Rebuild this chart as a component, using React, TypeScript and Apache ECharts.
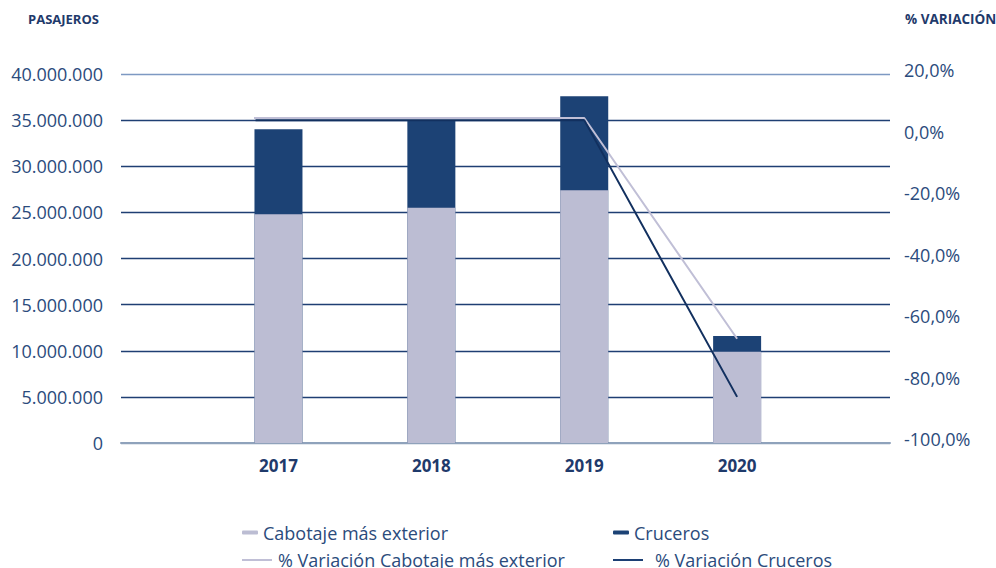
import React, { useEffect, useRef } from "react";
import * as echarts from "echarts";

const categories = ["", "2017", "2018", "2019", "2020", ""];
const barX = [1, 2, 3, 4];
const cabotaje = [24800000, 25500000, 27400000, 9900000];
const cruceros = [9200000, 9500000, 10200000, 1700000];
// % variation lines: [position on category index scale, value]
const varCabotajeX = [0.84, 1, 2, 3, 4];
const varCabotaje = [5.7, 5.7, 5.7, 5.7, -66.1];
const varCrucerosX = [0.85, 1, 2, 3, 4];
const varCruceros = [5.0, 5.0, 5.0, 5.0, -85.0];
const labelPositions = [1, 2, 3, 4];

const NAVY = "#1c4275";
const LIGHT = "#bcbdd3";
const TEXT = "#2b4b7c";
const FONT = "'Open Sans', 'Noto Sans', sans-serif";

function fmtThousands(v: number) {
  return String(v).replace(/\B(?=(\d{3})+(?!\d))/g, ".");
}

export default function App() {
  const ref = useRef<HTMLDivElement>(null);
  useEffect(() => {
    if (!ref.current) return;
    const chart = echarts.init(ref.current, null, { renderer: "svg" });
    const legendText = { fontFamily: FONT, fontSize: 18, color: TEXT, lineHeight: 22 };
    // stacked totals (cabotaje + cruceros), the cabotaje part is drawn over it
    const totals = cabotaje.map((v, i) => v + cruceros[i]);
    chart.setOption({
      animation: false,
      grid: { left: 121, right: 106, top: 74, bottom: 125, containLabel: false },
      graphic: [
        {
          type: "text",
          left: 28,
          top: 12,
          style: { text: "PASAJEROS", font: `bold 13px ${FONT}`, fill: "#1f3a6b" },
        },
        {
          type: "text",
          left: 905,
          top: 12,
          style: { text: "% VARIACIÓN", font: `bold 13.5px ${FONT}`, fill: "#1f3a6b" },
        },
      ],
      legend: [
        {
          data: ["Cabotaje más exterior"],
          left: 242,
          top: 518,
          padding: 0,
          icon: "roundRect",
          itemWidth: 16,
          itemHeight: 4,
          textStyle: { ...legendText, padding: [0, 0, 7, 0] },
        },
        {
          data: ["Cruceros"],
          left: 613,
          top: 518,
          padding: 0,
          icon: "roundRect",
          itemWidth: 16,
          itemHeight: 4,
          textStyle: { ...legendText, padding: [0, 0, 7, 0] },
        },
        {
          data: ["% Variación Cabotaje más exterior"],
          left: 242,
          top: 549,
          padding: 0,
          icon: "rect",
          itemWidth: 30,
          itemHeight: 2,
          textStyle: { ...legendText, padding: [0, 0, 0, 1] },
        },
        {
          data: ["% Variación Cruceros"],
          left: 613,
          top: 549,
          padding: 0,
          icon: "rect",
          itemWidth: 30,
          itemHeight: 2,
          textStyle: { ...legendText, padding: [0, 0, 0, 7] },
        },
      ],
      xAxis: [
        {
          type: "value",
          min: -0.03,
          max: 5,
          axisLine: { lineStyle: { color: "#8fa2bb", width: 2 } },
          axisTick: { show: false },
          axisLabel: {
            fontFamily: FONT,
            fontSize: 17,
            fontWeight: "bold",
            color: "#1f3a6b",
            margin: 14,
            customValues: labelPositions,
            formatter: (v: number) => categories[Math.round(v)] ?? "",
          },
          splitLine: { show: false },
        },
      ],
      yAxis: [
        {
          type: "value",
          min: 0,
          max: 40000000,
          interval: 5000000,
          axisLine: { show: false },
          axisTick: { show: false },
          axisLabel: {
            fontFamily: FONT,
            fontSize: 18,
            color: TEXT,
            margin: 18,
            formatter: (v: number) => fmtThousands(v),
          },
          splitLine: {
            lineStyle: {
              color: [
                "#8fa2bb",
                "#1f3f73",
                "#1f3f73",
                "#1f3f73",
                "#1f3f73",
                "#1f3f73",
                "#1f3f73",
                "#1f3f73",
                "#7d99c2",
              ],
              width: 1.4,
            },
          },
        },
        {
          type: "value",
          min: -100,
          max: 20,
          interval: 20,
          position: "right",
          axisLine: { show: false },
          axisTick: { show: false },
          splitLine: { show: false },
          axisLabel: {
            fontFamily: FONT,
            fontSize: 18,
            color: TEXT,
            margin: 14,
            formatter: (v: number) => "{a|" + v.toFixed(1).replace(".", ",") + "%}",
            rich: {
              a: {
                fontFamily: FONT,
                fontSize: 18,
                color: TEXT,
                padding: [0, 0, 8, 0],
              },
            },
          },
        },
      ],
      series: [
        {
          name: "Cruceros",
          type: "bar",
          yAxisIndex: 0,
          barWidth: 48,
          barGap: "-100%",
          data: barX.map((x, i) => [x, totals[i]]),
          itemStyle: { color: NAVY },
          z: 2,
        },
        {
          name: "Cabotaje más exterior",
          type: "bar",
          yAxisIndex: 0,
          barWidth: 48,
          barGap: "-100%",
          data: barX.map((x, i) => [x, cabotaje[i]]),
          itemStyle: { color: LIGHT },
          z: 3,
        },
        {
          name: "% Variación Cabotaje más exterior",
          type: "line",
          yAxisIndex: 1,
          data: varCabotajeX.map((x, i) => [x, varCabotaje[i]]),
          showSymbol: false,
          symbol: "none",
          lineStyle: { color: "#c0bfd6", width: 2 },
          itemStyle: { color: "#c0bfd6" },
          z: 4,
        },
        {
          name: "% Variación Cruceros",
          type: "line",
          yAxisIndex: 1,
          data: varCrucerosX.map((x, i) => [x, varCruceros[i]]),
          showSymbol: false,
          symbol: "none",
          lineStyle: { color: "#12305f", width: 2 },
          itemStyle: { color: "#1c3f74" },
          z: 5,
        },
      ],
    });
    return () => chart.dispose();
  }, []);
  return (
    <div
      ref={ref}
      style={{ position: "fixed", left: 0, top: 0, width: 996, height: 568, background: "#fff" }}
    />
  );
}
